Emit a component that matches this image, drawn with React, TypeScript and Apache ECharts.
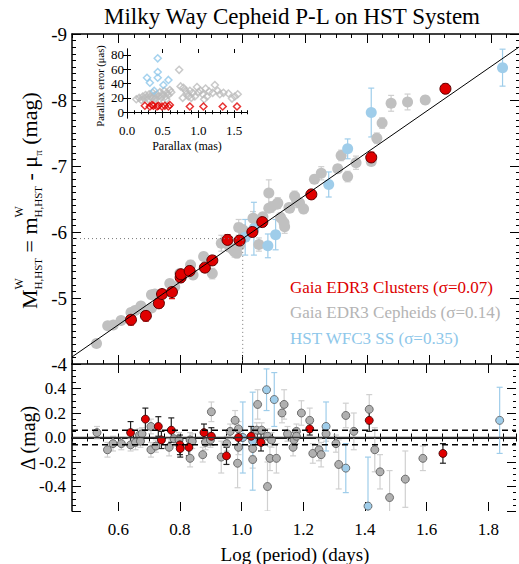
import React, { useEffect, useRef } from 'react';
import * as echarts from 'echarts';

const FONT = 'Liberation Serif';

// ---- axis ranges / ticks ----
const X_MIN = 0.45;
const X_MAX = 1.89;
const X_LABELS = [0.6, 0.8, 1.0, 1.2, 1.4, 1.6, 1.8];
const M_MIN = -9;
const M_MAX = -4;
const D_MIN = -0.6;
const D_MAX = 0.6;
const D_LABELS = [-0.4, -0.2, 0, 0.2, 0.4];
const INSET_X_MAX = 1.68;
const INSET_X_LABELS = [0, 0.5, 1.0, 1.5];
const INSET_Y_MIN = -8;
const INSET_Y_MAX = 88;
const INSET_Y_LABELS = [0, 20, 40, 60, 80];

// ---- P-L fit ----
const FIT_PIVOT = 1.0;
const FIT_ZP = -5.9;
const FIT_SLOPE = -3.26;
const SIGMA_BAND = 0.06;

// ---- upper panel: [logP, M, err] ----
const CLUSTER_PL = [
  [0.640, -4.67, 0.08], [0.688, -4.73, 0.08], [0.730, -4.92, 0.07], [0.740, -5.06, 0.06],
  [0.772, -5.09, 0.1], [0.800, -5.31, 0.07], [0.801, -5.36, 0.06], [0.829, -5.41, 0.06],
  [0.878, -5.46, 0.06], [0.902, -5.57, 0.06], [0.951, -5.88, 0.08], [0.990, -5.87, 0.06],
  [1.031, -6.00, 0.06], [1.063, -6.15, 0.06], [1.221, -6.57, 0.06], [1.414, -7.13, 0.08],
  [1.653, -8.17, 0.07],
];
const CEPHEID_PL = [
  [0.529, -4.31, 0.05], [0.565, -4.58, 0.05], [0.583, -4.59, 0.05], [0.608, -4.66, 0.05],
  [0.640, -4.78, 0.06], [0.653, -4.81, 0.05], [0.669, -4.84, 0.06], [0.672, -4.88, 0.05],
  [0.706, -5.05, 0.06], [0.706, -4.85, 0.05], [0.717, -5.06, 0.05], [0.765, -5.22, 0.06],
  [0.781, -5.17, 0.05], [0.797, -5.37, 0.06], [0.832, -5.50, 0.07], [0.840, -5.35, 0.06],
  [0.874, -5.63, 0.06], [0.902, -5.37, 0.08], [0.931, -5.83, 0.12], [0.945, -5.85, 0.06],
  [0.958, -5.77, 0.06], [0.969, -5.73, 0.06], [0.974, -5.70, 0.08], [0.981, -5.68, 0.07],
  [0.987, -6.07, 0.12], [0.990, -5.80, 0.06], [1.001, -6.03, 0.08], [1.033, -6.21, 0.1],
  [1.036, -6.20, 0.06], [1.052, -5.81, 0.1], [1.065, -6.23, 0.06], [1.084, -6.59, 0.2],
  [1.084, -6.36, 0.06], [1.092, -6.38, 0.08], [1.110, -6.42, 0.06], [1.113, -6.44, 0.08],
  [1.122, -6.22, 0.07], [1.133, -6.14, 0.08], [1.135, -6.08, 0.1], [1.149, -6.37, 0.06],
  [1.151, -6.36, 0.06], [1.167, -6.54, 0.08], [1.174, -6.47, 0.1], [1.183, -6.44, 0.07],
  [1.196, -6.35, 0.07], [1.231, -6.80, 0.06], [1.253, -6.89, 0.1], [1.306, -6.96, 0.06],
  [1.317, -7.16, 0.08], [1.338, -6.84, 0.08], [1.365, -7.05, 0.1], [1.414, -7.07, 0.06],
  [1.432, -7.42, 0.08], [1.449, -7.65, 0.08], [1.478, -7.95, 0.12], [1.531, -7.97, 0.12],
  [1.588, -8.00, 0.06],
];
const HST_PL = [
  [1.008, -5.92, 0.27], [1.036, -6.05, 0.4], [1.081, -5.79, 0.18], [1.106, -5.96, 0.23],
  [1.277, -6.72, 0.19], [1.338, -7.26, 0.15], [1.414, -7.81, 0.37], [1.837, -8.49, 0.28],
];

// ---- lower panel: [logP, delta, err] ----
const CLUSTER_RES = [
  [0.640, 0.04, 0.09], [0.688, 0.15, 0.09], [0.730, 0.09, 0.08], [0.740, -0.02, 0.07],
  [0.772, 0.06, 0.1], [0.800, -0.06, 0.08], [0.801, -0.09, 0.07], [0.829, -0.08, 0.07],
  [0.878, 0.04, 0.07], [0.902, 0.01, 0.07], [0.951, -0.15, 0.07], [0.990, 0.00, 0.07],
  [1.031, 0.01, 0.08], [1.063, -0.04, 0.07], [1.221, 0.07, 0.05], [1.414, 0.14, 0.09],
  [1.653, -0.13, 0.08],
];
const CEPHEID_RES = [
  [0.531, 0.04, 0.05], [0.565, -0.10, 0.06], [0.583, -0.05, 0.06], [0.610, -0.05, 0.05],
  [0.640, -0.06, 0.05], [0.656, -0.04, 0.06], [0.669, 0.02, 0.05], [0.672, -0.03, 0.05],
  [0.677, 0.03, 0.05], [0.706, -0.10, 0.06], [0.706, 0.09, 0.06], [0.722, -0.07, 0.05],
  [0.765, -0.08, 0.07], [0.781, -0.01, 0.06], [0.797, -0.02, 0.06], [0.833, -0.02, 0.06],
  [0.833, -0.17, 0.07], [0.840, -0.03, 0.06], [0.874, -0.14, 0.06], [0.883, -0.04, 0.06],
  [0.899, -0.02, 0.06], [0.902, 0.21, 0.08], [0.934, -0.16, 0.13], [0.952, -0.05, 0.06],
  [0.963, 0.05, 0.06], [0.979, 0.14, 0.08], [0.987, -0.21, 0.2], [0.990, 0.07, 0.06],
  [0.990, -0.08, 0.06], [1.036, -0.18, 0.07], [1.036, -0.09, 0.06], [1.052, 0.27, 0.12],
  [1.049, 0.06, 0.06], [1.065, 0.06, 0.06], [1.084, 0.01, 0.06], [1.084, -0.40, 0.2],
  [1.092, -0.17, 0.1], [1.097, -0.02, 0.06], [1.113, -0.17, 0.12], [1.131, 0.20, 0.08],
  [1.138, 0.27, 0.12], [1.149, 0.03, 0.06], [1.167, -0.08, 0.07], [1.170, -0.02, 0.06],
  [1.178, 0.05, 0.06], [1.178, 0.01, 0.06], [1.194, 0.20, 0.1], [1.221, 0.14, 0.1],
  [1.231, -0.13, 0.08], [1.251, -0.10, 0.09], [1.258, -0.14, 0.1], [1.274, 0.03, 0.06],
  [1.306, -0.05, 0.07], [1.315, -0.22, 0.2], [1.338, 0.18, 0.1], [1.364, 0.05, 0.15],
  [1.414, 0.23, 0.12], [1.432, -0.10, 0.18], [1.449, -0.28, 0.14], [1.480, -0.49, 0.22],
  [1.531, -0.34, 0.23], [1.588, -0.17, 0.1],
];
const HST_RES = [
  [1.004, 0.00, 0.29], [1.036, -0.03, 0.4], [1.081, 0.39, 0.17], [1.106, 0.31, 0.22],
  [1.274, 0.09, 0.2], [1.338, -0.25, 0.2], [1.410, -0.56, 0.4], [1.837, 0.14, 0.27],
];

// ---- inset: [parallax (mas), parallax error (uas)] ----
const CLUSTER_PLX = [
  [0.25, 9], [0.32, 8], [0.35, 10], [0.37, 9], [0.42, 8], [0.44, 9], [0.49, 8],
  [0.53, 9], [0.58, 8], [0.60, 10], [0.88, 8], [1.07, 8], [1.34, 8], [1.54, 8],
];
const CEPHEID_PLX = [
  [0.13, 18], [0.17, 20], [0.20, 17], [0.22, 22], [0.24, 19], [0.26, 24], [0.28, 21],
  [0.30, 18], [0.31, 25], [0.33, 22], [0.35, 20], [0.36, 27], [0.38, 23], [0.40, 19],
  [0.42, 25], [0.44, 22], [0.46, 28], [0.48, 21], [0.50, 25], [0.52, 30], [0.54, 22],
  [0.56, 27], [0.58, 24], [0.60, 31], [0.62, 28], [0.55, 18], [0.45, 17],
  [0.73, 59], [0.75, 36], [0.79, 34], [0.82, 30], [0.84, 26], [0.86, 22], [0.88, 30],
  [0.92, 27], [0.95, 22], [0.98, 35], [1.00, 28], [1.03, 30], [1.06, 25], [1.10, 33],
  [1.12, 22], [1.15, 29], [1.20, 27], [1.23, 38], [1.27, 30], [1.30, 25], [1.35, 27],
  [1.42, 26], [1.47, 19], [1.51, 22], [1.55, 25], [0.78, 20], [0.90, 20], [1.08, 18],
];
const HST_PLX = [
  [0.28, 48], [0.32, 41], [0.38, 30], [0.43, 75], [0.43, 56], [0.43, 48], [0.51, 38], [0.58, 45],
];

const RED = '#e00000';
const GRAY = '#c0c0c0';
const BLUE = '#9fcdea';

function fitM(logP: number) {
  return FIT_ZP + FIT_SLOPE * (logP - FIT_PIVOT);
}

function errBars(rows: number[][], xi: number, yi: number, color: string, width: number, cap: number) {
  return {
    type: 'custom',
    xAxisIndex: xi,
    yAxisIndex: yi,
    clip: true,
    silent: true,
    data: rows.map((r) => [r[0], r[1] - r[2], r[1] + r[2]]),
    encode: { x: 0, y: [1, 2] },
    renderItem: (_p: any, api: any) => {
      const x = api.value(0);
      const a = api.coord([x, api.value(1)]);
      const b = api.coord([x, api.value(2)]);
      const st = { stroke: color, lineWidth: width };
      return {
        type: 'group',
        children: [
          { type: 'line', shape: { x1: a[0], y1: a[1], x2: b[0], y2: b[1] }, style: st },
          { type: 'line', shape: { x1: a[0] - cap, y1: a[1], x2: a[0] + cap, y2: a[1] }, style: st },
          { type: 'line', shape: { x1: b[0] - cap, y1: b[1], x2: b[0] + cap, y2: b[1] }, style: st },
        ],
      };
    },
  };
}

function dots(rows: number[][], xi: number, yi: number, fill: string, size: number, border: string, bw: number) {
  return {
    type: 'scatter',
    xAxisIndex: xi,
    yAxisIndex: yi,
    symbol: 'circle',
    symbolSize: size,
    data: rows.map((r) => [r[0], r[1]]),
    itemStyle: { color: fill, borderColor: border, borderWidth: bw, opacity: 1 },
    silent: true,
  };
}

function diamonds(rows: number[][], color: string) {
  return {
    type: 'scatter',
    xAxisIndex: 8,
    yAxisIndex: 4,
    symbol: 'diamond',
    symbolSize: 7,
    data: rows,
    itemStyle: { color: 'rgba(0,0,0,0)', borderColor: color, borderWidth: 1.5 },
    silent: true,
  };
}

const BLACK = '#000';

function minorX(grid: number, pos: string, min: number, max: number, interval: number, len: number, labels?: any) {
  return {
    type: 'value',
    gridIndex: grid,
    position: pos,
    min,
    max,
    interval,
    axisLine: { show: true, lineStyle: { color: BLACK, width: 1.5 } },
    axisTick: { show: true, inside: true, length: len, lineStyle: { color: BLACK, width: 1 } },
    axisLabel: labels || { show: false },
    splitLine: { show: false },
  };
}

function majorX(grid: number, pos: string, min: number, max: number, values: number[], len: number) {
  return {
    type: 'value',
    gridIndex: grid,
    position: pos,
    min,
    max,
    axisLine: { show: false },
    axisTick: { show: true, inside: true, length: len, customValues: values, lineStyle: { color: BLACK, width: 1 } },
    axisLabel: { show: false },
    splitLine: { show: false },
  };
}

function measure(text: string, size: number) {
  const c = document.createElement('canvas').getContext('2d');
  if (!c) return text.length * size * 0.5;
  c.font = `${size}px "${FONT}", serif`;
  return c.measureText(text).width;
}

function yLabelPieces() {
  const MAIN = 22;
  const SMALL = 11;
  const base = 37;
  const subBase = 41.5;
  const supBase = 23;
  const rot = Math.PI / 2;
  let cur = 309;
  const out: any[] = [];
  const mainText = (t: string) => {
    out.push({
      type: 'text', x: base - 0.34 * MAIN, y: cur, rotation: rot,
      style: { text: t, fontSize: MAIN, fontFamily: FONT, fill: BLACK, align: 'left', verticalAlign: 'middle' },
    });
    cur -= measure(t, MAIN);
  };
  const subsup = (sub: string, sup: string | null) => {
    out.push({
      type: 'text', x: subBase - 0.34 * SMALL, y: cur, rotation: rot,
      style: { text: sub, fontSize: SMALL, fontFamily: FONT, fill: BLACK, align: 'left', verticalAlign: 'middle' },
    });
    let w = measure(sub, SMALL);
    if (sup) {
      out.push({
        type: 'text', x: supBase - 0.34 * SMALL, y: cur, rotation: rot,
        style: { text: sup, fontSize: SMALL + 1, fontFamily: FONT, fill: BLACK, align: 'left', verticalAlign: 'middle' },
      });
      w = Math.max(w, measure(sup, SMALL + 1));
    }
    cur -= w;
  };
  mainText('M');
  subsup('H,HST', 'W');
  mainText(' = m');
  subsup('H,HST', 'W');
  mainText(' - \u03bc');
  subsup('\u03c0', null);
  mainText(' (mag)');
  return out;
}

export default function App() {
  const ref = useRef<HTMLDivElement>(null);
  useEffect(() => {
    document.body.style.margin = '0';
    if (!ref.current) return;
    const chart = echarts.init(ref.current, undefined, { renderer: 'svg' });

    const xLabelFmt = (v: number) => {
      const r = Math.round(v * 100);
      return r % 20 === 0 && r >= 60 && r <= 180 ? (r / 100).toFixed(1) : '';
    };

    const option: any = {
      animation: false,
      backgroundColor: '#fff',
      textStyle: { fontFamily: FONT },
      grid: [
        { left: 72, top: 34, width: 447, height: 330 },
        { left: 72, top: 364, width: 447, height: 147 },
        { left: 127, top: 49, width: 120, height: 69, show: true, backgroundColor: '#fff', borderWidth: 0, z: 5 },
      ],
      xAxis: [
        minorX(0, 'bottom', X_MIN, X_MAX, 0.05, 4),
        minorX(0, 'top', X_MIN, X_MAX, 0.05, 4),
        majorX(0, 'bottom', X_MIN, X_MAX, X_LABELS, 9),
        majorX(0, 'top', X_MIN, X_MAX, X_LABELS, 9),
        minorX(1, 'bottom', X_MIN, X_MAX, 0.05, 4, {
          show: true, formatter: xLabelFmt, fontSize: 17, fontFamily: FONT, color: BLACK, margin: 10,
        }),
        minorX(1, 'top', X_MIN, X_MAX, 0.05, 4),
        majorX(1, 'bottom', X_MIN, X_MAX, X_LABELS, 9),
        majorX(1, 'top', X_MIN, X_MAX, X_LABELS, 9),
        {
          ...minorX(2, 'bottom', 0, INSET_X_MAX, 0.1, 2, {
            show: true, fontSize: 13, fontFamily: FONT, color: BLACK, margin: 6,
            formatter: (v: number) => {
              const r = Math.round(v * 10);
              return r % 5 === 0 && INSET_X_LABELS.some((t) => Math.abs(t - v) < 1e-6) ? (r / 10).toFixed(1) : '';
            },
          }),
          axisLine: { show: true, lineStyle: { color: BLACK, width: 1 } },
          z: 6,
        },
        { ...minorX(2, 'top', 0, INSET_X_MAX, 0.1, 2), axisLine: { show: true, lineStyle: { color: BLACK, width: 1 } }, z: 6 },
        { ...majorX(2, 'bottom', 0, INSET_X_MAX, INSET_X_LABELS, 4), z: 6 },
        { ...majorX(2, 'top', 0, INSET_X_MAX, INSET_X_LABELS, 4), z: 6 },
      ],
      yAxis: [
        {
          type: 'value', gridIndex: 0, position: 'left', min: M_MIN, max: M_MAX, interval: 1, inverse: true,
          axisLine: { show: true, lineStyle: { color: BLACK, width: 1.5 } },
          axisTick: { inside: true, length: 9, lineStyle: { color: BLACK } },
          minorTick: { show: true, splitNumber: 10, length: 4, lineStyle: { color: BLACK } },
          axisLabel: { fontSize: 19, fontFamily: FONT, color: BLACK, margin: 5, formatter: (v: number) => String(v) },
          splitLine: { show: false }, minorSplitLine: { show: false },
        },
        {
          type: 'value', gridIndex: 0, position: 'right', min: M_MIN, max: M_MAX, interval: 1, inverse: true,
          axisLine: { show: false },
          axisTick: { inside: true, length: 9, lineStyle: { color: BLACK } },
          minorTick: { show: true, splitNumber: 10, length: 3, lineStyle: { color: BLACK } },
          axisLabel: { show: false },
          splitLine: { show: false }, minorSplitLine: { show: false },
        },
        {
          type: 'value', gridIndex: 1, position: 'left', min: D_MIN, max: D_MAX, interval: 0.2,
          axisLine: { show: true, lineStyle: { color: BLACK, width: 1.5 } },
          axisTick: { inside: true, length: 9, lineStyle: { color: BLACK } },
          minorTick: { show: true, splitNumber: 4, length: 4, lineStyle: { color: BLACK } },
          axisLabel: {
            fontSize: 17, fontFamily: FONT, color: BLACK, margin: 6,
            formatter: (v: number) => {
              const hit = D_LABELS.find((t) => Math.abs(t - v) < 1e-6);
              return hit === undefined ? '' : hit.toFixed(1);
            },
          },
          splitLine: { show: false }, minorSplitLine: { show: false },
        },
        {
          type: 'value', gridIndex: 1, position: 'right', min: D_MIN, max: D_MAX, interval: 0.2,
          axisLine: { show: false },
          axisTick: { inside: true, length: 9, lineStyle: { color: BLACK } },
          minorTick: { show: true, splitNumber: 4, length: 3, lineStyle: { color: BLACK } },
          axisLabel: { show: false },
          splitLine: { show: false }, minorSplitLine: { show: false },
        },
        {
          type: 'value', gridIndex: 2, position: 'left', min: INSET_Y_MIN, max: INSET_Y_MAX, interval: 4, z: 6,
          axisLine: { show: true, lineStyle: { color: BLACK, width: 1 } },
          axisTick: { inside: true, length: 4, customValues: INSET_Y_LABELS, lineStyle: { color: BLACK } },
          axisLabel: {
            fontSize: 13, fontFamily: FONT, color: BLACK, margin: 3,
            formatter: (v: number) => (INSET_Y_LABELS.some((t) => Math.abs(t - v) < 1e-6) ? String(Math.round(v)) : ''),
          },
          splitLine: { show: false },
        },
        {
          type: 'value', gridIndex: 2, position: 'right', min: INSET_Y_MIN, max: INSET_Y_MAX, interval: 4, z: 6,
          axisLine: { show: true, lineStyle: { color: BLACK, width: 1 } },
          axisTick: { inside: true, length: 4, customValues: INSET_Y_LABELS, lineStyle: { color: BLACK } },
          axisLabel: { show: false },
          splitLine: { show: false },
        },
      ],
      series: [
        {
          type: 'line', xAxisIndex: 0, yAxisIndex: 0, symbol: 'none', silent: true,
          data: [[X_MIN, FIT_ZP], [FIT_PIVOT, FIT_ZP], [FIT_PIVOT, M_MAX]],
          lineStyle: { color: '#777', width: 1, type: [1, 3] },
        },
        {
          type: 'line', xAxisIndex: 0, yAxisIndex: 0, symbol: 'none', silent: true,
          data: [[X_MIN, fitM(X_MIN)], [X_MAX, fitM(X_MAX)]],
          lineStyle: { color: BLACK, width: 1 },
        },
        errBars(CEPHEID_PL, 0, 0, '#cfcfcf', 1.2, 3),
        dots(CEPHEID_PL, 0, 0, GRAY, 11, GRAY, 0),
        errBars(HST_PL, 0, 0, BLUE, 1.2, 3),
        dots(HST_PL, 0, 0, BLUE, 11, BLUE, 0),
        errBars(CLUSTER_PL, 0, 0, RED, 1.2, 3),
        dots(CLUSTER_PL, 0, 0, RED, 11, '#5a0000', 1),

        {
          type: 'line', xAxisIndex: 4, yAxisIndex: 2, symbol: 'none', silent: true,
          data: [[X_MIN, 0], [X_MAX, 0]], lineStyle: { color: '#333', width: 1.5 },
        },
        {
          type: 'line', xAxisIndex: 4, yAxisIndex: 2, symbol: 'none', silent: true,
          data: [[X_MIN, SIGMA_BAND], [X_MAX, SIGMA_BAND]], lineStyle: { color: BLACK, width: 1.5, type: [6, 4] },
        },
        {
          type: 'line', xAxisIndex: 4, yAxisIndex: 2, symbol: 'none', silent: true,
          data: [[X_MIN, -SIGMA_BAND], [X_MAX, -SIGMA_BAND]], lineStyle: { color: BLACK, width: 1.5, type: [6, 4] },
        },
        errBars(CEPHEID_RES, 4, 2, '#d0d0d0', 1.2, 3),
        dots(CEPHEID_RES, 4, 2, '#b0b0b0', 8, '#555', 0.8),
        errBars(HST_RES, 4, 2, BLUE, 1.2, 3),
        dots(HST_RES, 4, 2, BLUE, 8, '#555', 0.8),
        errBars(CLUSTER_RES, 4, 2, '#222', 1.2, 3),
        dots(CLUSTER_RES, 4, 2, RED, 8, '#300', 0.8),

        { ...diamonds(CEPHEID_PLX, '#bbbbbb'), z: 7 },
        { ...diamonds(HST_PLX, '#8ec7ea'), z: 7 },
        { ...diamonds(CLUSTER_PLX, RED), z: 7 },
      ],
      graphic: [
        {
          type: 'text', x: 292, y: 16,
          style: { text: 'Milky Way Cepheid P-L on HST System', fontSize: 23, fontFamily: FONT, fill: BLACK, align: 'center', verticalAlign: 'middle' },
        },
        {
          type: 'text', x: 295, y: 554,
          style: { text: 'Log (period) (days)', fontSize: 19, fontFamily: FONT, fill: BLACK, align: 'center', verticalAlign: 'middle' },
        },
        {
          type: 'text', x: 28, y: 438, rotation: Math.PI / 2,
          style: { text: '\u0394 (mag)', fontSize: 20, fontFamily: FONT, fill: BLACK, align: 'center', verticalAlign: 'middle' },
        },
        {
          type: 'text', x: 290, y: 287,
          style: { text: 'Gaia EDR3 Clusters (\u03c3=0.07)', fontSize: 17, fontFamily: FONT, fill: '#dd0000', align: 'left', verticalAlign: 'middle' },
        },
        {
          type: 'text', x: 290, y: 312,
          style: { text: 'Gaia EDR3 Cepheids (\u03c3=0.14)', fontSize: 17, fontFamily: FONT, fill: '#b4b4b4', align: 'left', verticalAlign: 'middle' },
        },
        {
          type: 'text', x: 290, y: 338,
          style: { text: 'HST WFC3 SS (\u03c3=0.35)', fontSize: 17, fontFamily: FONT, fill: '#8ec7ea', align: 'left', verticalAlign: 'middle' },
        },
        {
          type: 'text', x: 187, y: 146, z: 10,
          style: { text: 'Parallax (mas)', fontSize: 12, fontFamily: FONT, fill: BLACK, align: 'center', verticalAlign: 'middle' },
        },
        {
          type: 'text', x: 100, y: 86, rotation: Math.PI / 2, z: 10,
          style: { text: 'Parallax error (\u03bcas)', fontSize: 10.5, fontFamily: FONT, fill: BLACK, align: 'center', verticalAlign: 'middle' },
        },
        ...yLabelPieces(),
      ],
    };
    chart.setOption(option);
    return () => chart.dispose();
  }, []);
  return <div ref={ref} style={{ width: 519, height: 564 }} />;
}
